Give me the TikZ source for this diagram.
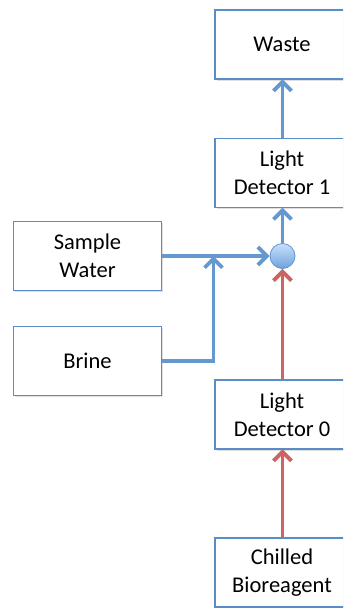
\documentclass[tikz,border=0pt]{standalone}
\usepackage{fontspec}
\setmainfont{Carlito}
\usetikzlibrary{arrows.meta,shadows}
\definecolor{boxblue}{RGB}{90,140,200}
\definecolor{flowblue}{RGB}{100,152,206}
\definecolor{flowred}{RGB}{205,100,95}
\definecolor{balltop}{RGB}{200,224,250}
\definecolor{ballbot}{RGB}{110,162,222}
\definecolor{ballout}{RGB}{95,148,210}
\tikzset{
  boxline/.style={draw=boxblue, line width=1.3pt, fill=white,
    drop shadow={shadow xshift=1.5pt, shadow yshift=-1.5pt, opacity=0.25, fill=gray}},
  txt/.style={minimum width=134pt, minimum height=69pt, align=center,
    font=\fontsize{22.5}{28}\selectfont, inner sep=2pt,
    execute at begin node={\vspace*{5pt}}},
  stage/.style={txt, boxline, minimum width=148pt},
  bflow/.style={draw=flowblue, line width=3.8pt, -{Straight Barb[length=9pt,width=18pt,line width=3.8pt]}},
  rflow/.style={draw=flowred, line width=3.8pt, -{Straight Barb[length=9pt,width=18pt,line width=3.8pt]}},
}
\begin{document}
\begin{tikzpicture}[x=1pt,y=-1pt]
\useasboundingbox (0,0) rectangle (343,608);
\clip (0,0) rectangle (343,608);
% right-column boxes run past the right edge
\draw[boxline] (215,10) rectangle (390,79);
\draw[boxline] (215,138.5) rectangle (390,207.5);
\draw[boxline] (215,380) rectangle (390,449);
\draw[boxline] (215,538) rectangle (390,607);
\node[txt] (waste) at (282,44.5) {Waste};
\node[txt] (ld1) at (282,173) {Light\\Detector 1};
\node[stage] (sw) at (87.5,256) {Sample\\Water};
\node[stage] (brine) at (87.5,361) {Brine};
\node[txt] (ld0) at (282,414.5) {Light\\Detector 0};
\node[txt] (chill) at (282,572.5) {Chilled\\Bioreagent};
\node[circle, minimum size=25pt, inner sep=0pt, draw=ballout, line width=0.8pt,
  top color=balltop, bottom color=ballbot] (mix) at (282.5,256) {};
\coordinate (join) at (213.5,256);
\draw[bflow] (mix |- ld1.north) -- (mix |- waste.south);
\draw[bflow] (mix.north) -- (mix |- ld1.south);
\draw[bflow] (sw.east |- mix) -- (mix.west);
\draw[bflow] (brine.east) -| (join);
\draw[rflow] (mix |- ld0.north) -- (mix.south);
\draw[rflow] (mix |- chill.north) -- (mix |- ld0.south);
\end{tikzpicture}
\end{document}
